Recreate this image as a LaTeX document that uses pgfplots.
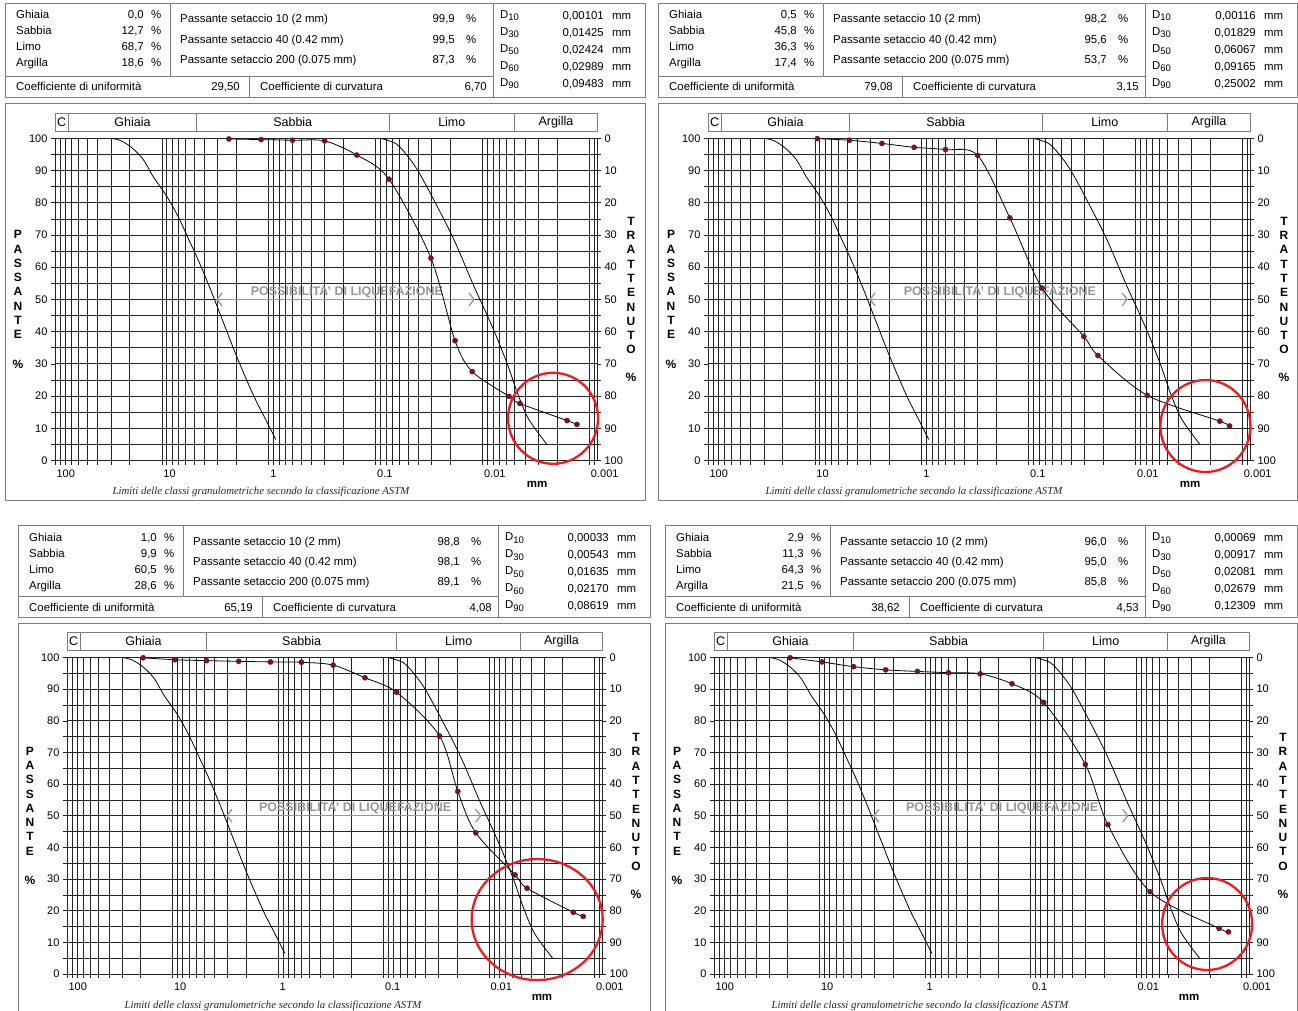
\documentclass[border=0pt]{standalone}
\usepackage{fontspec}
\setmainfont{Liberation Sans}
\newfontfamily\capserif{Liberation Serif}
\usepackage{pgfplots}
\usepackage{pgfplotstable}
\pgfplotsset{compat=1.18}
\usetikzlibrary{arrows.meta}
\pgfkeys{/pgf/number format/assume math mode=true}

\definecolor{dotred}{RGB}{115,20,40}
\definecolor{circred}{RGB}{236,28,36}
\definecolor{framegray}{RGB}{125,125,125}
\definecolor{liqgray}{RGB}{150,150,150}
\definecolor{gridc}{RGB}{35,35,35}

\newcommand{\tfont}{\fontsize{11.4}{13}\selectfont}
\newcommand{\tickfont}{\fontsize{11}{13}\selectfont}
\newcommand{\Dsub}[1]{D\raisebox{-2.5pt}{\fontsize{9.5}{10}\selectfont #1}}

% ---------------- data (mm, % passante) ----------------
\pgfplotstableread{
d p
29.5 100
24 99.2
19 97
15 93.5
12 88
9 82
7 75.5
5.5 68
4.5 61.7
3.5 53
2.7 43.4
2.1 34.1
1.7 26.8
1.35 19.3
1.1 13.5
0.86 6.5
}\envL
\pgfplotstableread{
d p
0.091 100
0.065 98.4
0.05 94.4
0.04 89.8
0.03 82.2
0.0188 69
0.0122 54.5
0.0095 46.6
0.0076 39.3
0.0058 29.5
0.0047 20.8
0.0037 12.8
0.0025 5.0
}\envR
\pgfplotstableread{
d p
2.36 99.8
1.18 99.6
0.6 99.4
0.3 99.2
0.15 94.8
0.075 87.3
0.0304 62.8
0.0181 37.2
0.0125 27.6
0.00566 19.9
0.00447 17.7
0.00162 12.4
0.00131 11.2
}\dTL
\pgfplotstableread{
d p
9.5 99.9
4.75 99.4
2.36 98.4
1.18 97.2
0.6 96.5
0.3 94.7
0.15 75.3
0.075 53.5
0.0305 38.5
0.0225 32.6
0.00776 20.2
0.00163 12.2
0.00132 10.7
}\dTR
\pgfplotstableread{
d p
19 99.9
9.5 99.3
4.75 99.0
2.36 98.8
1.18 98.6
0.6 98.5
0.3 97.6
0.15 93.6
0.075 89.0
0.0294 75.2
0.0198 57.7
0.01337 44.6
0.00567 31.3
0.00436 27.1
0.00159 19.5
0.00128 18.2
}\dBL
\pgfplotstableread{
d p
19 99.9
9.5 98.6
4.75 97.1
2.36 96.1
1.18 95.6
0.6 95.2
0.3 94.85
0.15 91.7
0.075 85.8
0.0302 66.2
0.0185 47.2
0.00737 26.0
0.00163 14.4
0.00133 13.3
}\dBR

\newcommand{\setvals}[7]{\def\tG{#1}\def\tS{#2}\def\tL{#3}\def\tA{#4}\def\tPa{#5}\def\tPb{#6}\def\tPc{#7}}
\newcommand{\setvalsB}[7]{\def\tDa{#1}\def\tDb{#2}\def\tDc{#3}\def\tDd{#4}\def\tDe{#5}\def\tCu{#6}\def\tCc{#7}}

\newcommand{\infotable}[4]{%
\begin{scope}[shift={(#1,#2)}, every node/.style={inner sep=0pt, font=\tfont}]
 \draw[framegray, line width=0.8pt] (0,0) rectangle (#3,#4);
 \draw[framegray, line width=0.8pt] (0,{#4-21}) -- ({#3-152},{#4-21});
 \draw[framegray, line width=0.8pt] (165,0) -- (165,{#4-21});
 \draw[framegray, line width=0.8pt] ({#3-152},0) -- ({#3-152},#4);
 \draw[framegray, line width=0.8pt] (244,{#4-21}) -- (244,#4);
 \node[anchor=base west] at (11,16) {Ghiaia};
 \node[anchor=base east] at (139,16) {\tG};
 \node[anchor=base west] at (146,16) {\%};
 \node[anchor=base west] at (11,32) {Sabbia};
 \node[anchor=base east] at (139,32) {\tS};
 \node[anchor=base west] at (146,32) {\%};
 \node[anchor=base west] at (11,48) {Limo};
 \node[anchor=base east] at (139,48) {\tL};
 \node[anchor=base west] at (146,48) {\%};
 \node[anchor=base west] at (11,64) {Argilla};
 \node[anchor=base east] at (139,64) {\tA};
 \node[anchor=base west] at (146,64) {\%};
 \node[anchor=base west] at (175,20) {Passante setaccio 10 (2 mm)};
 \node[anchor=base east] at ({#3-190},20) {\tPa};
 \node[anchor=base west] at ({#3-179},20) {\%};
 \node[anchor=base west] at (175,40.5) {Passante setaccio 40 (0.42 mm)};
 \node[anchor=base east] at ({#3-190},40.5) {\tPb};
 \node[anchor=base west] at ({#3-179},40.5) {\%};
 \node[anchor=base west] at (175,60.5) {Passante setaccio 200 (0.075 mm)};
 \node[anchor=base east] at ({#3-190},60.5) {\tPc};
 \node[anchor=base west] at ({#3-179},60.5) {\%};
 \node[anchor=base west] at (11,{#4-6}) {Coefficiente di uniformità};
 \node[anchor=base east] at (235,{#4-6}) {\tCu};
 \node[anchor=base west] at (255,{#4-6}) {Coefficiente di curvatura};
 \node[anchor=base east] at ({#3-158},{#4-6}) {\tCc};
 \node[anchor=base west] at ({#3-145},15.5) {\Dsub{10}};
 \node[anchor=base east] at ({#3-41},16.5) {\tDa};
 \node[anchor=base west] at ({#3-33},16.5) {mm};
 \node[anchor=base west] at ({#3-145},32.5) {\Dsub{30}};
 \node[anchor=base east] at ({#3-41},33.5) {\tDb};
 \node[anchor=base west] at ({#3-33},33.5) {mm};
 \node[anchor=base west] at ({#3-145},49.5) {\Dsub{50}};
 \node[anchor=base east] at ({#3-41},50.5) {\tDc};
 \node[anchor=base west] at ({#3-33},50.5) {mm};
 \node[anchor=base west] at ({#3-145},66.5) {\Dsub{60}};
 \node[anchor=base east] at ({#3-41},67.5) {\tDd};
 \node[anchor=base west] at ({#3-33},67.5) {mm};
 \node[anchor=base west] at ({#3-145},83.5) {\Dsub{90}};
 \node[anchor=base east] at ({#3-41},84.5) {\tDe};
 \node[anchor=base west] at ({#3-33},84.5) {mm};
\end{scope}}

\newcommand{\panel}[9]{%
\begin{axis}[at={(#1pt,-#2pt)}, anchor=north west, width=#3pt, height=#4pt,
  scale only axis, clip=false,
  xmode=log, x dir=reverse,
  xmin=0.00085, xmax=100, ymin=0, ymax=100,
  xtick={100,10,1,0.1,0.01,0.001},
  xticklabels={100,10,1,0.1,0.01,0.001},
  minor xtick={90,80,70,60,50,40,30,20,9,8,7,6,5,4,3,2,0.9,0.8,0.7,0.6,0.5,0.4,0.3,0.2,0.09,0.08,0.07,0.06,0.05,0.04,0.03,0.02,0.009,0.008,0.007,0.006,0.005,0.004,0.003,0.002,0.0009},
  ytick={0,10,...,100},
  minor ytick={5,15,...,95},
  grid=both,
  major grid style={gridc, line width=0.75pt},
  minor grid style={gridc, line width=0.65pt},
  axis line style={gridc, line width=0.8pt},
  tick align=outside,
  major tick length=4pt, minor tick length=4pt,
  tick style={gridc, line width=0.6pt},
  xtick pos=bottom, ytick pos=both, yticklabel pos=left,
  xticklabel style={font=\tickfont, anchor=north west, xshift=-2pt, yshift=-1.5pt},
  yticklabel style={font=\tickfont}]
 \addplot[black, line width=0.8pt, smooth] table[x=d,y=p] {\envL};
 \addplot[black, line width=0.8pt, smooth] table[x=d,y=p] {\envR};
 \draw[liqgray, line width=1.3pt, {Straight Barb[length=5pt,width=13pt]}-{Straight Barb[length=5pt,width=13pt]}] (axis cs:3.1,50) -- (axis cs:0.0118,50);
 \node[anchor=south, text=liqgray, font=\bfseries\fontsize{12.5}{13}\selectfont, inner sep=1.5pt] at (axis cs:0.186,50) {POSSIBILITA' DI LIQUEFAZIONE};
 \addplot[black, line width=0.8pt, smooth] table[x=d,y=p] {#5};
 \addplot[only marks, mark=*, mark size=2.6pt, dotred] table[x=d,y=p] {#5};
 \draw[circred, line width=2.3pt] (axis cs:#6,#7) ellipse[x radius=#8pt, y radius=#9pt];
 \draw[framegray, line width=0.8pt] ([yshift=7.3pt]axis description cs:0,1) rectangle ([yshift=25.3pt]axis description cs:1,1);
 \draw[framegray, line width=0.8pt] ([yshift=7.3pt]axis cs:75,100) -- ([yshift=25.3pt]axis cs:75,100);
 \draw[framegray, line width=0.8pt] ([yshift=7.3pt]axis cs:4.75,100) -- ([yshift=25.3pt]axis cs:4.75,100);
 \draw[framegray, line width=0.8pt] ([yshift=7.3pt]axis cs:0.075,100) -- ([yshift=25.3pt]axis cs:0.075,100);
 \draw[framegray, line width=0.8pt] ([yshift=7.3pt]axis cs:0.005,100) -- ([yshift=25.3pt]axis cs:0.005,100);
 \node[font=\fontsize{12.5}{13}\selectfont] at ([yshift=16.3pt]axis cs:86.6,100) {C};
 \node[font=\fontsize{12.5}{13}\selectfont] at ([yshift=16.3pt]axis cs:18.87,100) {Ghiaia};
 \node[font=\fontsize{12.5}{13}\selectfont] at ([yshift=16.3pt]axis cs:0.597,100) {Sabbia};
 \node[font=\fontsize{12.5}{13}\selectfont] at ([yshift=16.3pt]axis cs:0.0194,100) {Limo};
 \node[font=\fontsize{12.5}{13}\selectfont] at ([yshift=16.3pt]axis cs:0.00206,100) {Argilla};
 \node[font=\bfseries\fontsize{11.5}{12}\selectfont] at ([xshift=-60pt,yshift=-23.5pt]axis description cs:1,0) {mm};
 \node[font=\capserif\itshape\fontsize{10.8}{12}\selectfont, text=black!85] at ([xshift=206pt,yshift=-31.5pt]axis description cs:0,0) {Limiti delle classi granulometriche secondo la classificazione ASTM};
 \node[align=center, font=\bfseries\fontsize{12}{14.3}\selectfont, inner sep=0pt] at ([xshift=-37pt]axis description cs:0,0.5) {P\\A\\S\\S\\A\\N\\T\\E\\[15pt]\%};
 \node[align=center, font=\bfseries\fontsize{12}{14.3}\selectfont, inner sep=0pt] at ([xshift=34pt]axis description cs:1,0.5) {T\\R\\A\\T\\T\\E\\N\\U\\T\\O\\[13.5pt]\%};
\end{axis}
\begin{axis}[at={(#1pt,-#2pt)}, anchor=north west, width=#3pt, height=#4pt, scale only axis,
  xmin=0, xmax=1, ymin=0, ymax=100, y dir=reverse, hide x axis, axis y line*=right,
  axis line style={draw=none}, ytick={0,10,...,100}, tick align=outside, major tick length=4pt,
  ytick style={draw=none}, yticklabel style={font=\tickfont}]
\end{axis}}

\begin{document}
\begin{tikzpicture}
\path[use as bounding box] (0pt,0pt) rectangle (1298pt,-1011pt);
\begin{scope}[x=1pt,y=-1pt]
 \draw[framegray, line width=0.8pt] (5,103) rectangle (645,500);
 \draw[framegray, line width=0.8pt] (658,103) rectangle (1297,500);
 \draw[framegray, line width=0.8pt] (18,1015) -- (18,623) -- (650,623) -- (650,1015);
 \draw[framegray, line width=0.8pt] (665,1015) -- (665,623) -- (1297,623) -- (1297,1015);
 \setvals{0,0}{12,7}{68,7}{18,6}{99,9}{99,5}{87,3}
 \setvalsB{0,00101}{0,01425}{0,02424}{0,02989}{0,09483}{29,50}{6,70}
 \infotable{5}{3}{640}{94}
 \setvals{0,5}{45,8}{36,3}{17,4}{98,2}{95,6}{53,7}
 \setvalsB{0,00116}{0,01829}{0,06067}{0,09165}{0,25002}{79,08}{3,15}
 \infotable{658}{3}{639}{94}
 \setvals{1,0}{9,9}{60,5}{28,6}{98,8}{98,1}{89,1}
 \setvalsB{0,00033}{0,00543}{0,01635}{0,02170}{0,08619}{65,19}{4,08}
 \infotable{18}{525}{632}{92}
 \setvals{2,9}{11,3}{64,3}{21,5}{96,0}{95,0}{85,8}
 \setvalsB{0,00069}{0,00917}{0,02081}{0,02679}{0,12309}{38,62}{4,53}
 \infotable{665}{525}{632}{92}
\end{scope}
\panel{55}{138.3}{542}{322.2}{\dTL}{0.00219}{13.1}{45}{45.5}
\panel{708}{138.3}{542}{322.2}{\dTR}{0.00222}{10.7}{45}{46}
\panel{67}{657.5}{535}{316.5}{\dBL}{0.0035}{17.2}{65.5}{60.5}
\panel{714}{657.5}{535}{316.5}{\dBR}{0.00212}{15.8}{45}{46}
\end{tikzpicture}
\end{document}
